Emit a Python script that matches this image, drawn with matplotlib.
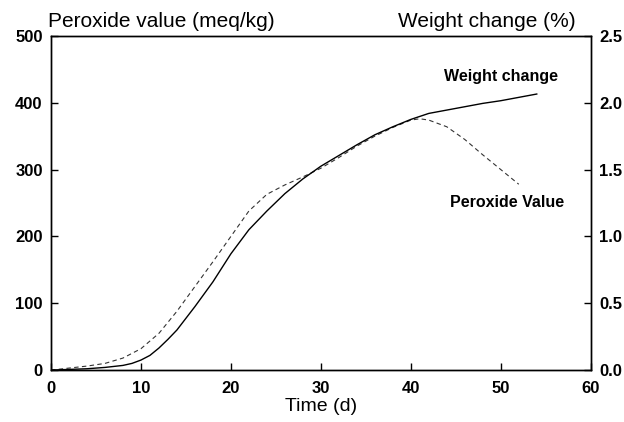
import matplotlib
matplotlib.use("Agg")
import matplotlib.pyplot as plt

plt.rcParams['font.family'] = ['Liberation Sans', 'DejaVu Sans']

# Weight change (%) - solid line, right axis
days_w = [0, 2, 4, 6, 8, 9, 10, 11, 12, 13, 14, 16, 18, 20, 22, 24, 26, 28,
          30, 32, 34, 36, 38, 40, 42, 44, 46, 48, 50, 52, 54]
weight = [0, 0.005, 0.01, 0.02, 0.035, 0.05, 0.075, 0.11, 0.165, 0.23, 0.30,
          0.475, 0.66, 0.87, 1.05, 1.19, 1.32, 1.43, 1.525, 1.605, 1.685, 1.76,
          1.82, 1.875, 1.92, 1.945, 1.97, 1.995, 2.015, 2.04, 2.065]

# Peroxide value (meq/kg) - dashed line, left axis
days_p = [0, 2, 4, 6, 8, 10, 12, 14, 16, 18, 20, 22, 24, 26, 27, 28, 30, 32,
          34, 36, 38, 40, 41, 42, 44, 46, 48, 50, 52]
peroxide = [0, 3, 6, 10, 18, 32, 55, 88, 125, 162, 200, 238, 263, 277, 283,
            289, 302, 318, 335, 350, 363, 374, 376, 374, 364, 345, 322, 300, 278]

xticks = [0, 10, 20, 30, 40, 50, 60]
yticks_left = [0, 100, 200, 300, 400, 500]
yticks_right = [0.0, 0.5, 1.0, 1.5, 2.0, 2.5]

fig = plt.figure(figsize=(6.24, 4.22), dpi=100)
ax1 = fig.add_axes([0.0817, 0.123, 0.865, 0.792])
ax2 = ax1.twinx()

ax1.plot(days_p, peroxide, color='#333333', linestyle=(0, (4, 3)), linewidth=0.8)
ax2.plot(days_w, weight, color='black', linewidth=1.0)

ax1.set_xlim(0, 60)
ax1.set_ylim(0, 500)
ax2.set_ylim(0, 2.5)
ax1.set_xticks(xticks)
ax1.set_yticks(yticks_left)
ax2.set_yticks(yticks_right)
ax2.set_yticklabels([f'{v:.1f}' for v in yticks_right])

for ax in (ax1, ax2):
    ax.tick_params(direction='in', length=5, width=1, labelsize=12, pad=6)
    for lab in ax.get_xticklabels() + ax.get_yticklabels():
        lab.set_fontweight('bold')
    for sp in ax.spines.values():
        sp.set_linewidth(1.0)
ax1.tick_params(axis='x', pad=8)

ax1.set_xlabel('Time (d)', fontsize=14, labelpad=1)
fig.text(0.077, 0.948, 'Peroxide value (meq/kg)', fontsize=15, ha='left', va='center')
fig.text(0.923, 0.948, 'Weight change (%)', fontsize=15, ha='right', va='center')

ax1.text(50.0, 439, 'Weight change', fontsize=11.5, fontweight='bold', ha='center', va='center')
ax1.text(50.7, 251, 'Peroxide Value', fontsize=11.5, fontweight='bold', ha='center', va='center')

fig.savefig('out.png', dpi=100)
